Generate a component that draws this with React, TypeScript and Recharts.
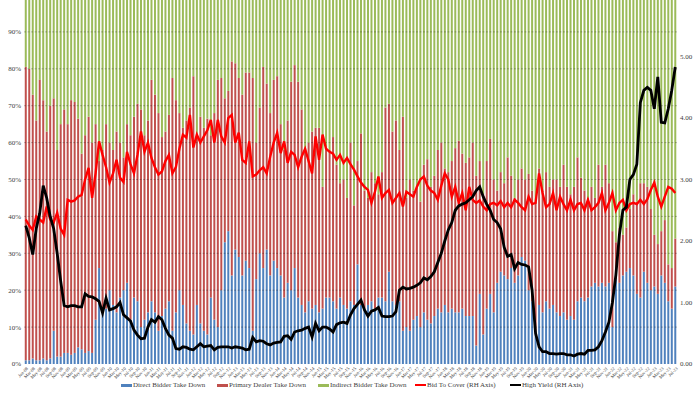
import { ComposedChart, Bar, Line, XAxis, YAxis, ReferenceLine } from "recharts";

// monthly auctions, Jan-08 .. Jul-23
const MONTHS = ["Jan","Feb","Mar","Apr","May","Jun","Jul","Aug","Sep","Oct","Nov","Dec"];
const YEARS = ["08","09","10","11","12","13","14","15","16","17","18","19","20","21","22","23"];
const N_AUCTIONS = 187;

// take down shares, %
const DIRECT = [
  1,1,1.5,1,1,1.5,1,1.5,9,2, 2,3,3,2.5,3,4.5,4,3,3.5,3,
  12,26,14,15,20,16,14,18,20,22, 12,18,17,10,12,14,17,14,9,13,
  15,17,9,14,20,16,11,9,8,16, 11,9,8,18,12,10,20,33,36,24,
  31,29,24,28,26,9,23,30,26,31, 24,28,26,24,18,22,20,26,18,16,
  14,17,15,16,14,15,18,18,17,15, 18,16,15,17,16,27,16,15,16,17,
  15,18,18,17,25,17,16,17,9,10, 9,12,13,10,14,12,11,13,15,14,
  16,14,15,14,14,15,13,13,13,5, 19,8,15,19,14,22,25,24,23,26,
  22,24,29,28,20,17,9,16,14,17, 15,16,14,13,14,12,13,12,17,18,
  17,18,21,22,21,22,21,22,10,23, 22,24,25,26,24,19,18,25,22,20,
  21,19,24,22,17,15,21,
];
const DEALER = [
  79.5,79,71.5,65,76,70,62,68.5,63,56, 63,66,62,69,68,62,53,59,63.5,57,
  53,29,44,50,40,42,49,42,36,43, 50,49,53.5,59,50,52,60,59,59,48.5,
  48,50.5,68.5,57.5,48,48,55,60.5,70,46.5, 56,55,58.5,44,56,67,57.5,39,38,58,
  50.5,48.5,49,51,53,68.5,37,39.5,54.5,45, 44,49,52,41,40,44,56.5,55,58.5,53,
  44,43,48,48,50,33,40,40,44.5,39, 31,34,30,43,27,28,46.5,32,29,35,
  34,28,34,52.5,45.5,46,50,41,58,35, 41,35,35,34,40,43.5,37,38,43,46,
  37,38,40,44.5,46.5,42,41.5,43,47,46, 36,38,40,42,36,25,27,25,33,25,
  23,26,24,22,31.5,30,35,37,33,35, 33,34,36,35,40,36,33,36,39,32.5,
  30,27,27,23,33,26,33,27,26,10, 15,11,12,16,22,25,31,24,26,22,
  14,13.5,12,17,10,11,13,
];
const INDIRECT = [
  19.5,20,27,34,23,28.5,37,30,28,42, 35,31,35,28.5,29,33.5,43,38,33,40,
  35,45,42,35,40,42,37,40,44,35, 38,33,29.5,31,38,34,23,27,32,38.5,
  37,32.5,22.5,28.5,32,36,34,30.5,22,37.5, 33,36,33.5,38,32,23,22.5,28,26,18,
  18.5,22.5,27,21,21,22.5,40,30.5,19.5,24, 32,23,22,35,42,34,23.5,19,23.5,31,
  42,40,37,36,36,52,42,42,38.5,46, 51,50,55,40,57,45,37.5,53,55,48,
  51,54,48,30.5,29.5,37,34,42,33,55, 50,53,52,56,46,44.5,52,49,42,40,
  47,48,45,41.5,39.5,43,45.5,44,40,49, 45,54,45,39,50,53,48,51,44,49,
  55,50,47,50,48.5,53,56,47,53,48, 52,50,50,52,46,52,54,52,44,49.5,
  53,55,52,55,46,52,46,51,64,67, 63,65,63,58,54,56,51,51,52,58,
  65,67.5,64,61,73,74,66,
];

// right hand axis
const BID_TO_COVER = [
  2.35,2.25,2.18,2.4,2.35,2.3,2.56,2.35,2.3,2.46, 2.2,2.1,2.67,2.64,2.66,2.72,2.75,3.0,3.19,2.7,
  3.1,3.62,3.4,3.2,2.95,3.1,3.32,3.03,2.96,3.45, 3.25,3.1,3.4,3.78,3.45,3.6,3.35,3.2,3.08,3.13,
  3.3,3.4,3.1,3.2,3.5,3.73,3.68,4.05,3.52,3.73, 3.6,3.7,3.8,3.97,3.6,3.97,3.7,3.6,4.0,4.05,
  3.6,3.76,3.32,3.27,3.62,3.05,3.08,3.15,3.2,3.1, 3.37,3.6,3.76,3.43,3.62,3.27,3.45,3.4,3.2,3.37,
  3.5,3.3,3.1,3.7,3.32,3.73,3.5,3.45,3.42,3.32, 3.4,3.27,3.35,3.25,3.16,3.05,2.95,2.88,2.83,2.62,
  2.8,3.05,2.7,2.78,2.83,2.62,2.7,2.78,2.56,2.8, 2.76,2.72,2.88,3.0,3.05,2.9,2.82,2.78,2.67,2.9,
  3.1,3.0,2.72,2.88,2.62,2.78,2.5,2.88,2.67,2.62, 2.66,2.56,2.5,2.6,2.62,2.58,2.65,2.55,2.62,2.55,
  2.67,2.62,2.55,2.5,2.72,2.6,2.62,3.1,2.78,2.55, 2.6,2.78,2.5,2.72,2.6,2.5,2.67,2.5,2.6,2.62,
  2.5,2.67,2.5,2.55,2.62,2.78,2.5,2.62,2.78,2.5, 2.62,2.67,2.5,2.6,2.62,2.6,2.67,2.6,2.68,2.83,
  2.95,2.72,2.56,2.72,2.88,2.85,2.78,
];
const HIGH_YIELD = [
  2.25,2.05,1.78,2.2,2.45,2.9,2.7,2.4,2.2,1.8,1.35,0.95,
  0.93,0.95,0.95,0.93,0.93,1.14,1.1,1.09,1.06,1.02,0.83,1.07,
  0.88,0.9,0.93,1.0,0.8,0.75,0.7,0.55,0.47,0.41,0.42,0.6,
  0.72,0.68,0.77,0.72,0.58,0.47,0.42,0.25,0.24,0.28,0.27,0.24,
  0.23,0.28,0.33,0.28,0.29,0.3,0.23,0.27,0.28,0.28,0.28,0.26,
  0.28,0.27,0.26,0.23,0.24,0.43,0.36,0.38,0.37,0.33,0.31,0.34,
  0.35,0.36,0.45,0.46,0.4,0.52,0.54,0.55,0.58,0.6,0.44,0.66,
  0.54,0.6,0.6,0.57,0.52,0.64,0.67,0.68,0.66,0.8,0.9,0.97,
  1.04,0.88,0.78,0.86,0.88,0.92,0.78,0.77,0.77,0.78,0.85,1.2,
  1.25,1.22,1.23,1.25,1.28,1.32,1.4,1.37,1.42,1.5,1.65,1.8,
  2.0,2.18,2.3,2.5,2.57,2.6,2.62,2.67,2.72,2.82,2.88,2.72,
  2.6,2.5,2.35,2.3,2.2,1.9,1.75,1.78,1.55,1.65,1.62,1.61,
  1.58,1.2,0.5,0.28,0.2,0.2,0.17,0.17,0.16,0.17,0.17,0.15,
  0.15,0.13,0.16,0.17,0.16,0.22,0.22,0.23,0.28,0.38,0.52,0.68,
  1.0,1.45,2.1,2.5,2.55,3.0,3.08,3.25,4.25,4.45,4.5,4.45,
  4.15,4.67,3.93,3.92,4.15,4.45,4.83,
];

// the 100% / 6.00 top of both axes sits just above the visible frame
const PCT_TICKS = [0,10,20,30,40,50,60,70,80,90];
const RH_TICKS = [0,1,2,3,4,5];

const DATES = YEARS.flatMap((y) => MONTHS.map((m) => `${m}-${y}`)).slice(0, N_AUCTIONS);

const rows = DATES.map((date, i) => ({
  date,
  direct: DIRECT[i],
  dealer: DEALER[i],
  indirect: INDIRECT[i],
  btc: BID_TO_COVER[i],
  hy: HIGH_YIELD[i],
}));

const SERIF = "'Liberation Serif', 'DejaVu Serif', serif";
const AXIS_TICK = { fontSize: 7, fill: "#404040", fontFamily: SERIF };

const LEGEND = [
  { label: "Direct Bidder Take Down", color: "#4F81BD", left: 121, h: 3 },
  { label: "Primary Dealer Take Down", color: "#C0504D", left: 217, h: 3 },
  { label: "Indirect Bidder Take Down", color: "#9BBB59", left: 318, h: 3 },
  { label: "Bid To Cover (RH Axis)", color: "#FF0000", left: 415, h: 2.5 },
  { label: "High Yield (RH Axis)", color: "#000000", left: 510, h: 2.5 },
];

function DateTick(props: any) {
  const { x, y, payload } = props;
  const tx = x + 2;
  const ty = y + 2;
  return (
    <text x={tx} y={ty} transform={`rotate(-45 ${tx} ${ty})`} textAnchor="end" dominantBaseline="middle"
      fontSize={4.6} fill="#404040" fontFamily={SERIF}>
      {payload.value}
    </text>
  );
}

export default function App() {
  return (
    <div style={{ position: "relative", width: 700, height: 394, overflow: "hidden", background: "#fff" }}>
      <style>{"body{margin:0}"}</style>
      <div style={{ position: "absolute", left: 0, top: -6 }}>
        <ComposedChart width={700} height={400} data={rows} margin={{ top: 1, right: 0, bottom: 0, left: 0 }} barCategoryGap="22%">
          <XAxis dataKey="date" interval={1} tick={<DateTick />} tickSize={2} tickMargin={0} axisLine={false} tickLine={false} height={30} />
          <YAxis yAxisId="pct" domain={[0, 100]} ticks={PCT_TICKS} tickFormatter={(v) => `${v}%`} width={24}
            tickSize={0} tickMargin={3} axisLine={false} tickLine={false} tick={AXIS_TICK} />
          <YAxis yAxisId="rh" orientation="right" domain={[0, 6]} ticks={RH_TICKS} tickFormatter={(v) => Number(v).toFixed(2)} width={23}
            tickSize={0} tickMargin={3} axisLine={false} tickLine={false} tick={AXIS_TICK} />
          <Bar yAxisId="pct" dataKey="direct" stackId="td" fill="#4F81BD" isAnimationActive={false} />
          <Bar yAxisId="pct" dataKey="dealer" stackId="td" fill="#C0504D" isAnimationActive={false} />
          <Bar yAxisId="pct" dataKey="indirect" stackId="td" fill="#9BBB59" isAnimationActive={false} />
          {PCT_TICKS.slice(1).map((t) => (
            <ReferenceLine key={t} yAxisId="pct" y={t} stroke="#000" strokeOpacity={0.35} strokeWidth={0.7} strokeDasharray="2 1.5" />
          ))}
          <Line yAxisId="rh" dataKey="btc" type="linear" stroke="#FF0000" strokeWidth={2.4} dot={false} isAnimationActive={false} />
          <Line yAxisId="rh" dataKey="hy" type="linear" stroke="#000000" strokeWidth={2.8} dot={false} isAnimationActive={false} />
        </ComposedChart>
      </div>
      {LEGEND.map((l) => (
        <div key={l.label} style={{ position: "absolute", left: l.left, top: 381, display: "flex", alignItems: "center",
          fontFamily: SERIF, fontSize: 7, color: "#404040", whiteSpace: "nowrap" }}>
          <span style={{ display: "inline-block", width: 11, height: l.h, background: l.color, marginRight: 1 }} />
          {l.label}
        </div>
      ))}
    </div>
  );
}
